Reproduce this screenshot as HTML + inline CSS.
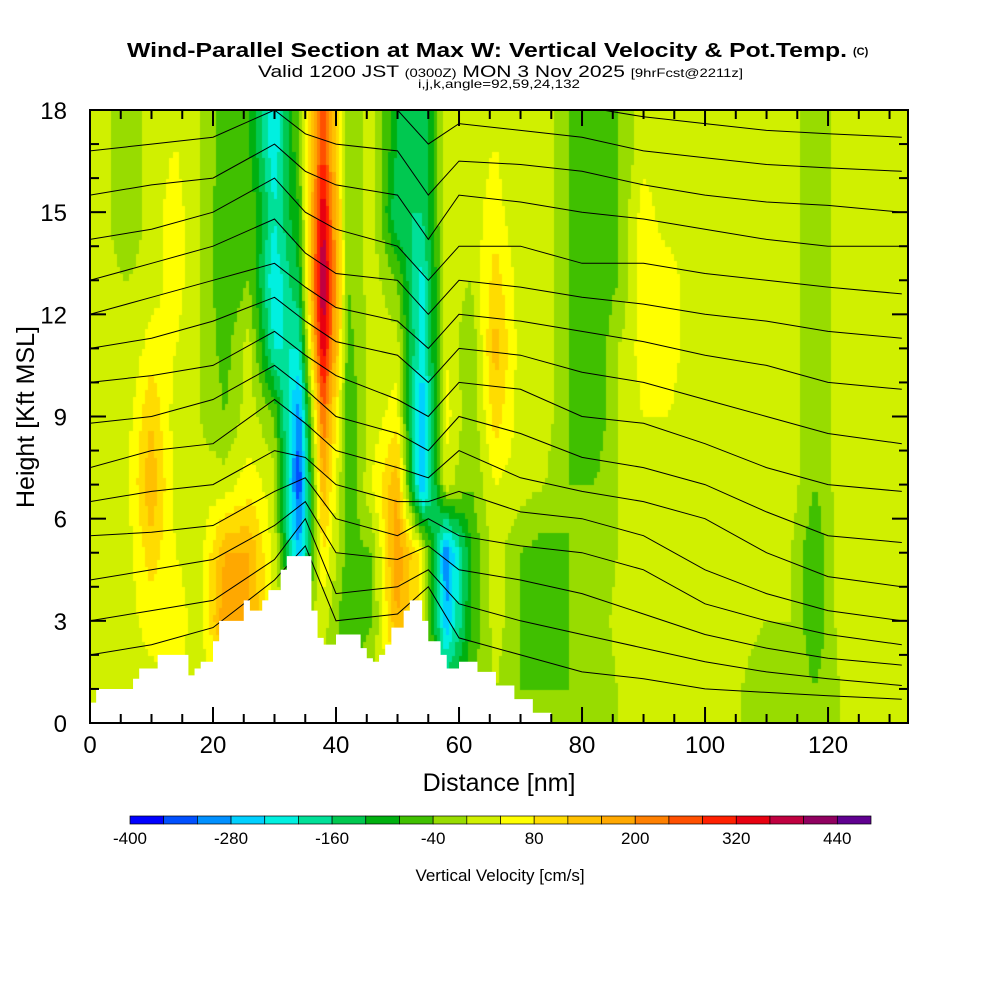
<!DOCTYPE html>
<html><head><meta charset="utf-8">
<style>
body{margin:0;background:#fff;width:1000px;height:1000px;overflow:hidden;position:relative;font-family:"Liberation Sans",sans-serif}
#field{position:absolute;left:90px;top:110px}
svg{position:absolute;left:0;top:0}
</style></head><body>
<canvas id="field" width="818" height="613"></canvas>
<svg id="s" width="1000" height="1000"></svg>
<script>
// Data
const colCenters=[2,6,10,14,18,22,26,30,34,38,42,46,50,54,58,62,66,70,74,78,82,86,90,94,98,102,106,110,114,118,122,126,130];
const rowCenters=[17,15,13,11,9,7,5,3,1];
const w0=[20,-40,20,40,0,-60,-80,-240,-40,280,-40,20,-120,-160,20,20,40,0,20,-40,-80,-40,20,20,20,20,20,0,20,-40,20,20,20];
const w1=[20,-40,20,60,0,-80,-40,-200,-80,360,-40,20,-160,-160,20,20,60,0,20,-40,-80,-40,60,20,20,20,0,20,20,-40,20,20,20];
const w2=[20,0,20,60,0,-80,-40,-240,-120,420,-40,20,-40,-220,20,0,100,20,20,-40,-80,-40,60,60,20,20,0,20,20,-40,20,0,20];
const w3=[20,0,60,40,0,-60,20,-200,-200,360,-60,20,20,-240,40,-40,140,20,20,-40,-80,0,60,60,20,20,20,0,20,-40,20,0,20];
const w4=[20,20,120,20,0,-40,20,-40,-320,240,-80,20,60,-280,60,-40,100,20,20,-40,-80,0,40,40,20,20,20,20,20,-40,20,0,20];
const w5=[20,20,160,20,20,20,60,20,-360,160,-80,40,160,-300,20,-40,40,20,0,-40,-40,0,20,20,20,0,20,20,20,-40,20,0,20];
const w6=[20,20,100,40,20,160,160,20,-280,80,-60,-40,200,60,-320,-80,20,-40,-60,-40,-40,0,20,0,20,0,20,20,0,-80,20,0,20];
const w7=[20,20,60,60,20,200,160,40,0,20,-80,-40,160,60,-280,-80,20,-40,-80,-40,-40,20,20,20,20,0,20,0,0,-80,20,0,20];
const w8=[20,20,20,40,20,20,40,20,0,0,-40,0,60,20,-120,-40,0,-40,-40,-40,-40,0,20,0,0,0,0,-40,0,-40,0,0,0];
const wRows=[w0,w1,w2,w3,w4,w5,w6,w7,w8];
const terrainX=[0,1,6,7,8,11,16,17,18,20,21,25,26,28,29,31,32,36,37,38,40,44,45,46,47,48,49,51,52,54,55,57,58,60,63,66,69,72,75];
const terrainH=[0.6,1.0,1.0,1.3,1.6,2.0,1.4,1.6,1.8,2.4,3.0,3.6,3.3,3.6,3.9,4.5,4.9,3.3,2.5,2.3,2.6,2.2,1.9,1.8,2.0,2.3,2.8,3.3,3.6,3.0,2.4,2.0,1.6,1.8,1.5,1.1,0.7,0.3,0];
const thetaX=[0,10,20,30,35,40,50,55,60,70,80,90,100,110,120,132];
const thetaLines=[
[2.0,2.3,2.8,4.2,5.2,3.0,3.2,4.0,2.5,2.0,1.5,1.3,1.0,0.9,0.8,0.7],
[3.0,3.3,3.6,4.8,6.0,3.8,4.0,4.5,3.5,3.0,2.6,2.2,1.8,1.5,1.3,1.1],
[4.2,4.5,4.8,5.8,6.5,5.0,4.8,5.2,4.5,4.2,3.8,3.2,2.6,2.2,1.9,1.7],
[5.5,5.6,5.8,6.8,7.2,6.0,5.5,6.0,5.5,5.2,5.0,4.5,3.5,3.0,2.6,2.3],
[6.5,6.8,7.0,8.0,7.8,7.0,6.5,6.5,6.8,6.2,6.0,5.5,4.5,3.8,3.3,3.0],
[7.5,8.0,8.2,9.5,8.8,8.0,7.5,7.2,8.0,7.2,6.8,6.5,6.0,5.0,4.3,4.0],
[8.8,9.0,9.5,10.5,9.8,9.0,8.5,8.0,9.0,8.5,7.8,7.5,7.0,6.2,5.5,5.3],
[10.0,10.2,10.5,11.5,10.8,10.2,9.5,9.0,10.0,9.8,9.0,8.8,8.2,7.5,7.0,6.8],
[11.0,11.3,11.8,12.5,11.8,11.2,10.8,10.0,11.0,10.8,10.3,10.0,9.5,9.0,8.5,8.2],
[12.0,12.5,13.0,13.5,12.8,12.2,11.8,11.0,12.0,11.8,11.5,11.2,10.8,10.5,10.0,9.8],
[13.0,13.5,14.0,14.8,13.8,13.2,13.0,12.0,13.0,12.8,12.5,12.3,12.0,11.8,11.5,11.3],
[14.2,14.5,15.0,16.0,15.0,14.5,14.0,13.0,14.0,14.0,13.5,13.5,13.2,13.0,12.8,12.6],
[15.5,15.8,16.0,17.0,16.2,15.8,15.5,14.2,15.5,15.3,15.0,14.8,14.5,14.2,14.0,14.0],
[16.8,17.0,17.2,18.0,17.3,17.0,16.8,15.5,16.5,16.4,16.2,15.8,15.5,15.3,15.2,15.0],
[18,18,18,18.5,18.5,18,18,17.0,17.6,17.4,17.2,16.8,16.6,16.4,16.3,16.2],
[19,19,19,19,19,19,19,18.3,18.6,18.4,18.1,17.8,17.6,17.4,17.3,17.2]];
const colorTicks=[-400,-280,-160,-40,80,200,320,440];
const palette=["#0000ff","#0050ff","#0090ff","#00d0ff","#00f0e0","#00e098","#00c850","#00b010","#40c000","#98dc00","#d0f000","#ffff00","#ffdc00","#ffc000","#ffa800","#ff8000","#ff5000","#ff2000","#e80010","#c00040","#900060","#600090"];
const xTicks=[0,20,40,60,80,100,120];
const yTicks=[0,3,6,9,12,15,18];

const L=90,T=110,W=818,H=613,XMAX=133,YMAX=18;
const X=v=>L+v*W/XMAX, Y=v=>T+H-v*H/YMAX;
const colorOf=v=>palette[Math.max(0,Math.min(21,Math.floor((v+400)/40)))];

const ctx=document.getElementById('field').getContext('2d');
function sample(x,k){
  let ci=0; while(ci<colCenters.length-2&&colCenters[ci+1]<x)ci++;
  let tx=(x-colCenters[ci])/(colCenters[ci+1]-colCenters[ci]); tx=Math.max(0,Math.min(1,tx));
  let ri=0; while(ri<rowCenters.length-2&&rowCenters[ri+1]>k)ri++;
  let ty=(rowCenters[ri]-k)/(rowCenters[ri]-rowCenters[ri+1]); ty=Math.max(0,Math.min(1,ty));
  const a=wRows[ri][ci],b=wRows[ri][ci+1],c=wRows[ri+1][ci],d=wRows[ri+1][ci+1];
  return (a*(1-tx)+b*tx)*(1-ty)+(c*(1-tx)+d*tx)*ty;
}
const dx=0.5,dk=0.2;
for(let x=0;x<XMAX;x+=dx){for(let k=0;k<YMAX;k+=dk){
  ctx.fillStyle=colorOf(sample(x+dx/2,k+dk/2));
  const px=X(x)-L,py=Y(k+dk)-T;
  ctx.fillRect(Math.floor(px),Math.floor(py),Math.ceil(X(x+dx)-X(x))+1,Math.ceil(Y(k)-Y(k+dk))+1);
}}

const s=document.getElementById('s'),NS="http://www.w3.org/2000/svg";
function el(t,a,p){const e=document.createElementNS(NS,t);for(const k in a)e.setAttribute(k,a[k]);(p||s).appendChild(e);return e;}
function txt(str,a){const e=el('text',a);e.textContent=str;return e;}

const defs=el('defs',{});const cp=el('clipPath',{id:'pc'},defs);el('rect',{x:L,y:T,width:W,height:H},cp);
const cg=el('g',{'clip-path':'url(#pc)'});


thetaLines.forEach((ln,i)=>{
  const pts=ln.map((h,j)=>X(thetaX[j]).toFixed(1)+','+Y(h).toFixed(1)).join(' ');
  const p=el('polyline',{points:pts,fill:'none',stroke:'#000','stroke-width':1},cg);
  
  
});
let d='M'+X(0)+','+Y(0);
for(let i=0;i<terrainX.length;i++){const x2=i<terrainX.length-1?terrainX[i+1]:terrainX[i];d+=' L'+X(terrainX[i])+','+Y(terrainH[i])+' L'+X(x2)+','+Y(terrainH[i]);}
d+=' L'+X(terrainX[terrainX.length-1])+','+Y(0)+' Z';
const terr=el('path',{d:d,fill:'#fff',stroke:'none'},cg);



const fr=el('rect',{x:L,y:T,width:W,height:H,fill:'none',stroke:'#000','stroke-width':2});


for(let v=0;v<=XMAX;v+=5){const len=v%20===0?16:9;
  el('line',{x1:X(v),x2:X(v),y1:T+H,y2:T+H-len,stroke:'#000','stroke-width':2});
  el('line',{x1:X(v),x2:X(v),y1:T,y2:T+len,stroke:'#000','stroke-width':2});}
for(let v=0;v<=YMAX;v+=1){const len=v%3===0?16:9;
  el('line',{x1:L,x2:L+len,y1:Y(v),y2:Y(v),stroke:'#000','stroke-width':2});
  el('line',{x1:L+W,x2:L+W-len,y1:Y(v),y2:Y(v),stroke:'#000','stroke-width':2});}
xTicks.forEach(v=>{const t=txt(String(v),{x:X(v),y:753,'font-size':24,'text-anchor':'middle'});
  });
yTicks.forEach(v=>{const t=txt(String(v),{x:67,y:Y(v)+9,'font-size':24,'text-anchor':'end'});
  });
const xt=txt('Distance [nm]',{x:499,y:791,'font-size':25,'text-anchor':'middle'});

const yt=txt('Height [Kft MSL]',{x:0,y:0,'font-size':25,'text-anchor':'middle',transform:'translate(34,417) rotate(-90)'});


const t1=txt('Wind-Parallel Section at Max W: Vertical Velocity & Pot.Temp.',{x:127,y:57,'font-size':20,'font-weight':'bold',textLength:720,lengthAdjust:'spacingAndGlyphs'});

txt('(C)',{x:853,y:55,'font-size':11,'font-weight':'bold'});
const t2=el('text',{x:258,y:77,'font-size':17,textLength:485,lengthAdjust:'spacingAndGlyphs'});
t2.innerHTML='Valid 1200 JST <tspan font-size="12">(0300Z)</tspan> MON 3 Nov 2025 <tspan font-size="12">[9hrFcst@2211z]</tspan>';

txt('i,j,k,angle=92,59,24,132',{x:418,y:88,'font-size':12,textLength:162,lengthAdjust:'spacingAndGlyphs'});

const cbL=130,cbR=871,cbW=(cbR-cbL)/palette.length;
palette.forEach((c,i)=>{const r=el('rect',{x:cbL+i*cbW,y:816,width:cbW,height:8,fill:c,stroke:'#000','stroke-width':0.7});
  });
colorTicks.forEach(v=>{const t=txt(String(v),{x:cbL+(v+400)/40*cbW,y:844,'font-size':17,'text-anchor':'middle'});
  });
const ct=txt('Vertical Velocity [cm/s]',{x:500,y:881,'font-size':17,'text-anchor':'middle'});

</script>
</body></html>
